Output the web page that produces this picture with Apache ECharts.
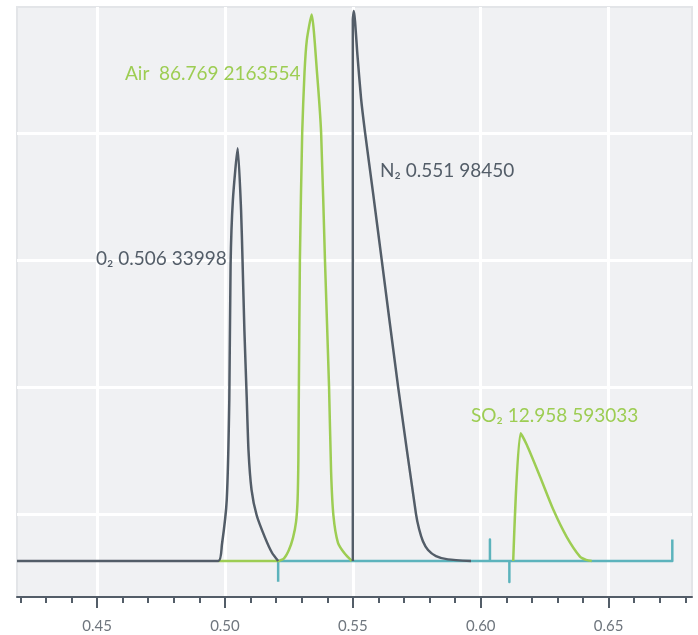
<!DOCTYPE html>
<html><head><meta charset="utf-8">
<script src="https://cdn.jsdelivr.net/npm/echarts@6/dist/echarts.min.js"></script>
<style>html,body{margin:0;padding:0;background:#fff;}#c{width:698px;height:635px;}</style>
</head><body><div id="c"></div>
<script>
// axis ranges
const xMin = 0.4187, xMax = 0.6826;
const yMin = -6.53, yMax = 100.54;
const majorTicks = [0.45, 0.50, 0.55, 0.60, 0.65];
const minorTicks = [0.42,0.43,0.44,0.45,0.46,0.47,0.48,0.49,0.50,0.51,0.52,0.53,0.54,0.55,0.56,0.57,0.58,0.59,0.60,0.61,0.62,0.63,0.64,0.65,0.66,0.67,0.68];
const yGridValues = [8.53, 31.58, 54.63, 77.68];

// peak traces [retention, intensity]
const o2Data = [[0.4187,0],[0.4974,0],[0.4988,2.9],[0.5007,11.1],[0.5017,29.2],[0.5022,53.7],[0.5031,65.5],[0.5050,74.9],[0.5063,63.7],[0.5069,54.1],[0.5076,41.9],[0.5085,29.8],[0.5092,20.1],[0.5104,12.9],[0.5124,8.3],[0.5157,4.2],[0.5184,1.5],[0.5208,0]];
const airData = [[0.4974,0],[0.5208,0],[0.5231,0.5],[0.5250,2.0],[0.5266,4.2],[0.5278,7.1],[0.5284,11.1],[0.5287,18.3],[0.5289,31.6],[0.5293,54.6],[0.5302,77.7],[0.5311,88.6],[0.5320,94.5],[0.5339,99.2],[0.5360,88.6],[0.5376,77.7],[0.5391,54.6],[0.5407,31.6],[0.5415,16.2],[0.5424,8.3],[0.5442,3.3],[0.5469,1.3],[0.5496,0]];
const n2Data = [[0.5500,0],[0.5500,98.2],[0.5504,99.8],[0.5518,91.8],[0.5532,84.0],[0.5548,77.7],[0.5579,66.8],[0.5613,54.6],[0.5677,31.6],[0.5747,8.5],[0.5759,5.8],[0.5774,3.6],[0.5794,2.0],[0.5825,0.9],[0.5872,0.3],[0.5962,0]];
const so2Data = [[0.6127,0],[0.6156,23.2],[0.6180,21.1],[0.6232,15.3],[0.6284,9.3],[0.6336,4.4],[0.6388,0.8],[0.6412,0.2],[0.6434,0]];
const baselineData = [[0.5208,-3.76],[0.5208,0],[0.6036,0],[0.6036,3.9],[0.6036,0],[0.6112,0],[0.6112,-3.8],[0.6112,0],[0.6749,0],[0.6749,3.9]];

// peak annotations
const labelO2 = '0\u2082 0.506 33998';
const labelAir = 'Air  86.769 2163554';
const labelN2 = 'N\u2082 0.551 98450';
const labelSO2 = 'SO\u2082 12.958 593033';

const DARK = '#535d68', GREEN = '#9dcd53', CYAN = '#5cb3bc';
const FONT = 'Lato, "Open Sans", sans-serif';

const chart = echarts.init(document.getElementById('c'));
function line(data, color, z, smooth) {
  return { type: 'line', data: data, showSymbol: false, symbol: 'none', z: z,
    smooth: smooth,
    lineStyle: { color: color, width: 2.5, join: 'round' }, animation: false };
}
chart.setOption({
  animation: false,
  grid: { left: 17, right: 6, top: 7, bottom: 38, show: true,
    backgroundColor: '#f0f1f3', borderColor: '#e3e5e8', borderWidth: 2 },
  xAxis: [
    { type: 'value', min: xMin, max: xMax, position: 'bottom',
      axisLine: { show: true, onZero: false, lineStyle: { color: DARK, width: 2 } },
      axisTick: { show: true, length: 6, customValues: minorTicks, lineStyle: { color: DARK, width: 2 } },
      axisLabel: { show: false }, splitLine: { show: false } },
    { type: 'value', min: xMin, max: xMax, position: 'bottom',
      axisLine: { show: false, onZero: false },
      axisTick: { show: true, length: 11, customValues: majorTicks, lineStyle: { color: DARK, width: 2 } },
      axisLabel: { show: true, customValues: majorTicks, margin: 22, color: '#6f767e',
        fontFamily: FONT, fontSize: 15, formatter: v => v.toFixed(2) },
      splitLine: { show: true, lineStyle: { color: '#ffffff', width: 3 } } }
  ],
  yAxis: { type: 'value', min: yMin, max: yMax,
    axisLine: { show: false, onZero: false }, axisTick: { show: false, customValues: yGridValues },
    axisLabel: { show: false, customValues: yGridValues },
    splitLine: { show: true, lineStyle: { color: '#ffffff', width: 3 } } },
  series: [
    line(baselineData, CYAN, 1, false),
    line(airData, GREEN, 2, 0.2),
    line(o2Data, DARK, 3, 0.2),
    line(n2Data, DARK, 3, 0.2),
    line(so2Data, GREEN, 4, 0.25)
  ],
  graphic: [
    { type: 'text', x: 96, y: 259, z: 10, style: { text: labelO2, fill: DARK, font: '19px ' + FONT, verticalAlign: 'middle' } },
    { type: 'text', x: 125, y: 74, z: 10, style: { text: labelAir, fill: GREEN, font: '19px ' + FONT, verticalAlign: 'middle' } },
    { type: 'text', x: 380, y: 171, z: 10, style: { text: labelN2, fill: DARK, font: '19px ' + FONT, verticalAlign: 'middle' } },
    { type: 'text', x: 471, y: 416, z: 10, style: { text: labelSO2, fill: GREEN, font: '19px ' + FONT, verticalAlign: 'middle' } }
  ]
});
</script></body></html>
